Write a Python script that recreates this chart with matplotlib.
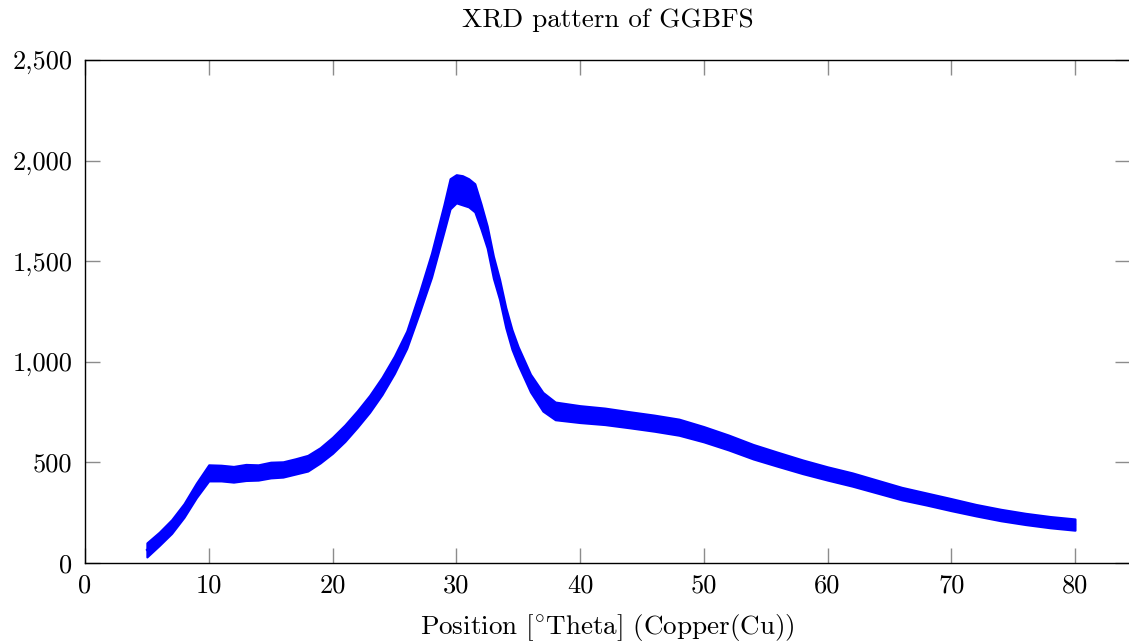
import matplotlib
matplotlib.use("Agg")
import matplotlib.pyplot as plt
from matplotlib.ticker import FuncFormatter

# ---- data ----
two_theta = [5, 6, 7, 8, 9, 10, 11, 12, 13, 14, 15, 16, 17, 18, 19, 20, 21, 22, 23,
             24, 25, 26, 27, 28, 29, 29.5, 30, 30.5, 31, 31.5, 32, 32.5, 33, 33.5,
             34, 34.5, 35, 36, 37, 38, 40, 42, 44, 46, 48, 50, 52, 54, 56, 58, 60,
             62, 64, 66, 68, 70, 72, 74, 76, 78, 80]
intensity_mid = [65, 120, 180, 260, 360, 445, 445, 440, 450, 450, 462, 465, 480, 495,
                 535, 585, 645, 715, 790, 880, 985, 1110, 1290, 1480, 1710, 1830, 1860,
                 1855, 1840, 1815, 1720, 1620, 1470, 1360, 1220, 1110, 1030, 893, 800,
                 755, 740, 728, 712, 695, 675, 640, 600, 553, 515, 478, 445, 415, 380,
                 345, 318, 290, 262, 238, 219, 203, 190]
intensity_low = [30, 87, 147, 227, 325, 408, 408, 402, 410, 412, 423, 427, 442, 457,
                 497, 545, 604, 674, 749, 837, 942, 1067, 1240, 1420, 1645, 1760, 1790,
                 1780, 1770, 1745, 1660, 1565, 1415, 1310, 1170, 1062, 985, 850, 755,
                 712, 698, 688, 672, 655, 635, 602, 562, 517, 480, 444, 412, 382, 348,
                 314, 288, 260, 234, 210, 191, 175, 163]
intensity_high = [100, 153, 215, 295, 397, 488, 486, 480, 490, 488, 501, 503, 518, 535,
                  573, 625, 686, 756, 833, 923, 1028, 1153, 1340, 1540, 1780, 1910, 1930,
                  1925, 1910, 1885, 1785, 1675, 1525, 1410, 1270, 1160, 1075, 938, 848,
                  800, 782, 770, 752, 735, 715, 678, 636, 589, 550, 512, 478, 448, 412,
                  376, 348, 320, 291, 267, 247, 231, 219]
x_ticks = [0, 10, 20, 30, 40, 50, 60, 70, 80]
y_ticks = [0, 500, 1000, 1500, 2000, 2500]

plt.rcParams['font.family'] = ['cmr10', 'DejaVu Serif']
plt.rcParams['mathtext.fontset'] = 'cm'
plt.rcParams['axes.unicode_minus'] = False

W, H = 1129, 642
fig = plt.figure(figsize=(W / 100, H / 100), dpi=100)
ax = fig.add_axes([85 / W, 1 - 563 / H, (1130 - 85) / W, (563 - 60) / H])

blue = (0, 0, 1)
ax.fill_between(two_theta, intensity_low, intensity_high, color=blue, lw=1.5)
ax.plot(two_theta, intensity_mid, color=blue, lw=1.5)

ax.set_xlim(0, (1130 - 85) / 12.375)
ax.set_ylim(0, 2500)
ax.set_xticks(x_ticks)
ax.set_yticks(y_ticks)
ax.yaxis.set_major_formatter(FuncFormatter(lambda v, p: f"{v:,.0f}"))

for s in ax.spines.values():
    s.set_linewidth(1.0)
    s.set_color('black')
ax.tick_params(direction='in', length=11, width=1, color='#8c8c8c',
               top=True, right=True, labelsize=19)
ax.tick_params(axis='x', pad=8)
ax.tick_params(axis='y', pad=9)

ax.set_title('XRD pattern of GGBFS', fontsize=19.5, pad=24)
ax.set_xlabel(r'Position [$^{\circ}$Theta] (Copper(Cu))', fontsize=19.5, labelpad=10)

fig.savefig('out.png', dpi=100)
